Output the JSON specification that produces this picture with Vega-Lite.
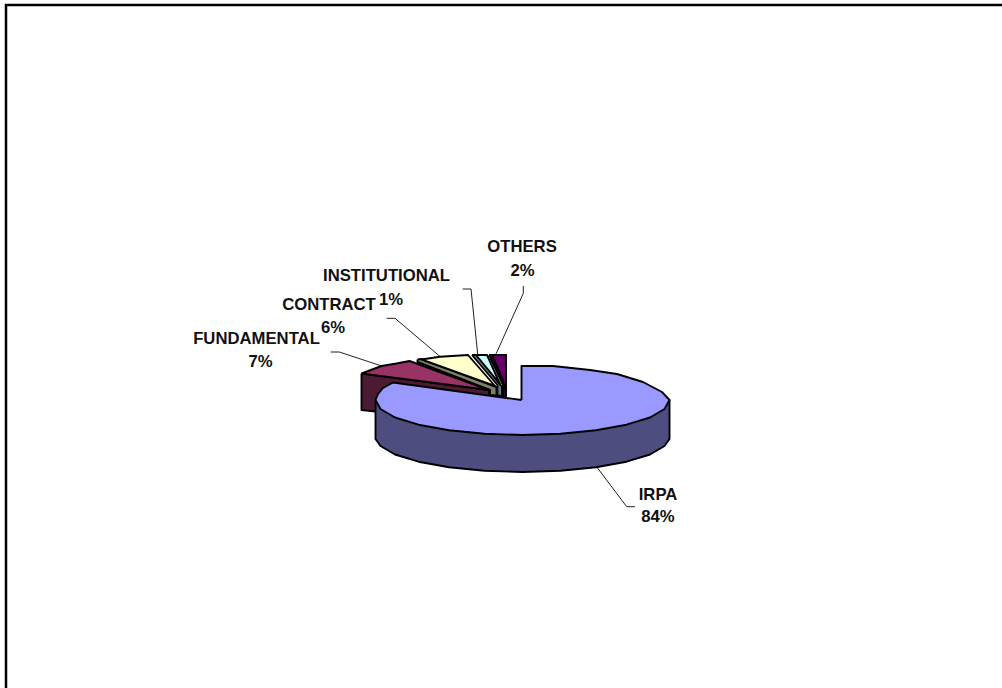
{
"$schema":"https://vega.github.io/schema/vega-lite/v6.json",
"width":1002,"height":688,"padding":0,"autosize":{"type":"none"},"background":"white",
"view":{"stroke":null},
"datasets":{
"shapes":[
{"part":"Fundamental side","seq":1,"px":361.5,"py":373.5},{"part":"Fundamental side","seq":2,"px":361.5,"py":410},{"part":"Fundamental side","seq":3,"px":380,"py":412},{"part":"Fundamental side","seq":4,"px":489,"py":396},{"part":"Fundamental side","seq":5,"px":489,"py":390},{"part":"Fundamental side","seq":6,"px":361.5,"py":373.5},
{"part":"Fundamental top","seq":1,"px":361.5,"py":373.5},{"part":"Fundamental top","seq":2,"px":381.5,"py":366},{"part":"Fundamental top","seq":3,"px":396.5,"py":363.5},{"part":"Fundamental top","seq":4,"px":409.5,"py":361},{"part":"Fundamental top","seq":5,"px":489,"py":390},{"part":"Fundamental top","seq":6,"px":361.5,"py":373.5},
{"part":"Contract side","seq":1,"px":417.5,"py":359.5},{"part":"Contract side","seq":2,"px":421.5,"py":359},{"part":"Contract side","seq":3,"px":496.5,"py":387},{"part":"Contract side","seq":4,"px":496.5,"py":395.5},{"part":"Contract side","seq":5,"px":490,"py":395},{"part":"Contract side","seq":6,"px":490,"py":390},{"part":"Contract side","seq":7,"px":417.5,"py":362},{"part":"Contract side","seq":8,"px":417.5,"py":359.5},
{"part":"Contract top","seq":1,"px":421.5,"py":359.5},{"part":"Contract top","seq":2,"px":440,"py":356.7},{"part":"Contract top","seq":3,"px":468,"py":355},{"part":"Contract top","seq":4,"px":495,"py":386},{"part":"Contract top","seq":5,"px":421.5,"py":359.5},
{"part":"Institutional side","seq":1,"px":472,"py":355},{"part":"Institutional side","seq":2,"px":477,"py":355},{"part":"Institutional side","seq":3,"px":502,"py":387},{"part":"Institutional side","seq":4,"px":502,"py":396},{"part":"Institutional side","seq":5,"px":497.5,"py":395.5},{"part":"Institutional side","seq":6,"px":497.5,"py":385},{"part":"Institutional side","seq":7,"px":472,"py":355},
{"part":"Institutional top","seq":1,"px":476,"py":355},{"part":"Institutional top","seq":2,"px":487,"py":355},{"part":"Institutional top","seq":3,"px":500,"py":384},{"part":"Institutional top","seq":4,"px":476,"py":355},
{"part":"Others side","seq":1,"px":489,"py":355},{"part":"Others side","seq":2,"px":506,"py":355},{"part":"Others side","seq":3,"px":506,"py":397},{"part":"Others side","seq":4,"px":503,"py":396.5},{"part":"Others side","seq":5,"px":503,"py":385},{"part":"Others side","seq":6,"px":489,"py":355},
{"part":"Others top","seq":1,"px":492,"py":355},{"part":"Others top","seq":2,"px":506,"py":355},{"part":"Others top","seq":3,"px":506,"py":392},{"part":"Others top","seq":4,"px":503,"py":380},{"part":"Others top","seq":5,"px":492,"py":355},
{"part":"IRPA side","seq":1,"px":375.5,"py":400},{"part":"IRPA side","seq":2,"px":669.5,"py":400},{"part":"IRPA side","seq":3,"px":669.5,"py":439},{"part":"IRPA side","seq":4,"px":664.5,"py":446},{"part":"IRPA side","seq":5,"px":650,"py":454.5},{"part":"IRPA side","seq":6,"px":626.5,"py":461.7},{"part":"IRPA side","seq":7,"px":596,"py":467.3},{"part":"IRPA side","seq":8,"px":560.5,"py":470.8},{"part":"IRPA side","seq":9,"px":522.5,"py":472},{"part":"IRPA side","seq":10,"px":484.5,"py":470.8},{"part":"IRPA side","seq":11,"px":449,"py":467.3},{"part":"IRPA side","seq":12,"px":418.5,"py":461.7},{"part":"IRPA side","seq":13,"px":395,"py":454.5},{"part":"IRPA side","seq":14,"px":380.5,"py":446},{"part":"IRPA side","seq":15,"px":375.5,"py":439},{"part":"IRPA side","seq":16,"px":375.5,"py":400},
{"part":"IRPA top","seq":1,"px":521.5,"py":400},{"part":"IRPA top","seq":2,"px":521.5,"py":366},{"part":"IRPA top","seq":3,"px":553,"py":366},{"part":"IRPA top","seq":4,"px":590,"py":370},{"part":"IRPA top","seq":5,"px":617,"py":374},{"part":"IRPA top","seq":6,"px":643,"py":382},{"part":"IRPA top","seq":7,"px":662,"py":392},{"part":"IRPA top","seq":8,"px":669.5,"py":400},{"part":"IRPA top","seq":9,"px":664.5,"py":409},{"part":"IRPA top","seq":10,"px":650,"py":417.5},{"part":"IRPA top","seq":11,"px":626.5,"py":424.7},{"part":"IRPA top","seq":12,"px":596,"py":430.3},{"part":"IRPA top","seq":13,"px":560.5,"py":433.8},{"part":"IRPA top","seq":14,"px":522.5,"py":435},{"part":"IRPA top","seq":15,"px":484.5,"py":433.8},{"part":"IRPA top","seq":16,"px":449,"py":430.3},{"part":"IRPA top","seq":17,"px":418.5,"py":424.7},{"part":"IRPA top","seq":18,"px":395,"py":417.5},{"part":"IRPA top","seq":19,"px":380.5,"py":409},{"part":"IRPA top","seq":20,"px":375.5,"py":400},{"part":"IRPA top","seq":21,"px":378,"py":394},{"part":"IRPA top","seq":22,"px":383,"py":388},{"part":"IRPA top","seq":23,"px":393,"py":382.5},{"part":"IRPA top","seq":24,"px":521.5,"py":400}
],
"leaders":[
{"slice":"OTHERS","seq":1,"px":523.3,"py":286},{"slice":"OTHERS","seq":2,"px":523.3,"py":293.3},{"slice":"OTHERS","seq":3,"px":496,"py":354},
{"slice":"INSTITUTIONAL","seq":1,"px":462.7,"py":289},{"slice":"INSTITUTIONAL","seq":2,"px":471,"py":289},{"slice":"INSTITUTIONAL","seq":3,"px":477.7,"py":354},
{"slice":"CONTRACT","seq":1,"px":386.7,"py":318.3},{"slice":"CONTRACT","seq":2,"px":395,"py":318.3},{"slice":"CONTRACT","seq":3,"px":441,"py":357.3},
{"slice":"FUNDAMENTAL","seq":1,"px":330.7,"py":352},{"slice":"FUNDAMENTAL","seq":2,"px":339.3,"py":352},{"slice":"FUNDAMENTAL","seq":3,"px":381.7,"py":366},
{"slice":"IRPA","seq":1,"px":597.3,"py":467.7},{"slice":"IRPA","seq":2,"px":626.7,"py":506.7},{"slice":"IRPA","seq":3,"px":635,"py":506.7}
],
"labels":[
{"label":"OTHERS","px":522,"py":247},{"label":"2%","px":522.5,"py":271},
{"label":"INSTITUTIONAL","px":386.5,"py":276},{"label":"1%","px":391,"py":300},
{"label":"CONTRACT","px":329,"py":305},{"label":"6%","px":333,"py":328},
{"label":"FUNDAMENTAL","px":256.5,"py":339},{"label":"7%","px":260.5,"py":362},
{"label":"IRPA","px":658,"py":495},{"label":"84%","px":658,"py":517}
],
"frame":[{"seq":1,"px":6,"py":688},{"seq":2,"px":6,"py":5},{"seq":3,"px":1002,"py":5}]
},
"encoding":{
"x":{"field":"px","type":"quantitative","scale":{"domain":[0,1002],"nice":false,"zero":false},"axis":null},
"y":{"field":"py","type":"quantitative","scale":{"domain":[688,0],"nice":false,"zero":false},"axis":null}
},
"layer":[
{"data":{"name":"frame"},"mark":{"type":"line","stroke":"black","strokeWidth":2.5,"clip":false},"encoding":{"order":{"field":"seq"}}},
{"data":{"name":"leaders"},"mark":{"type":"line","stroke":"#222222","strokeWidth":1},"encoding":{"detail":{"field":"slice"},"order":{"field":"seq"}}},
{"data":{"name":"shapes"},"mark":{"type":"line","stroke":"black","strokeWidth":1.9,"strokeJoin":"round"},"encoding":{"order":{"field":"seq"},
"fill":{"field":"part","type":"nominal","legend":null,"scale":{"domain":["Fundamental side","Fundamental top","Contract side","Contract top","Institutional side","Institutional top","Others side","Others top","IRPA side","IRPA top"],"range":["#4D1A33","#993366","#808066","#FFFFCC","#668080","#CCFFFF","#330033","#660066","#4D4D80","#9999FF"]}}}},
{"data":{"name":"labels"},"mark":{"type":"text","font":"Liberation Sans","fontWeight":"bold","fontSize":16.7,"align":"center","baseline":"middle","color":"#111111"},"encoding":{"text":{"field":"label"}}}
]
}
